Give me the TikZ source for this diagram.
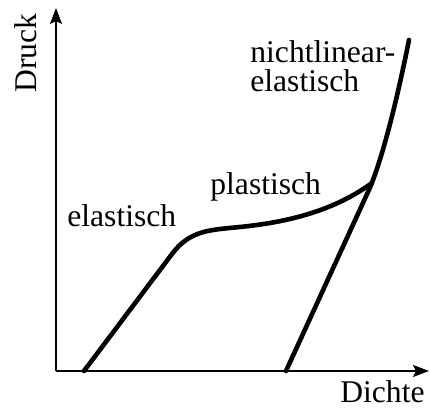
\documentclass[tikz,border=0pt]{standalone}
\usepackage{fontspec}
\setmainfont{Liberation Serif}
\usetikzlibrary{arrows.meta}
\tikzset{
  axis/.style={-{Stealth[length=8pt,width=6pt,inset=1.5pt]},line width=1pt},
  curve/.style={line width=2.3pt,line cap=round,line join=round},
  lbl/.style={inner sep=0pt,font=\fontsize{15.8}{14.5}\selectfont}
}

\begin{document}
\begin{tikzpicture}[x=0.5pt,y=0.5pt]
\useasboundingbox (-56,-39) rectangle (374,371);
\coordinate (O) at (0,0);
\coordinate (yend) at (0,363);
\coordinate (xend) at (373,0);
\draw[axis] (O) -- (yend);
\draw[axis] (O) -- (xend);
\node[lbl,rotate=90,anchor=base] (druck) at (-19,318) {Druck};
\node[lbl,anchor=base east] (dichte) at (369,-32) {Dichte};
% elastisch -> plastisch
\draw[curve] (28,0) -- (116,117) .. controls (134,141) and (154,141) .. (184,144)
  .. controls (234,149) and (279,161) .. (316,188);
% entlastung und nichtlinear-elastisch
\draw[curve] (230,0) -- (312,179) .. controls (324,205) and (339,261) .. (353,331);
\node[lbl,anchor=base west] (el) at (11,144) {elastisch};
\node[lbl,anchor=base west] (pl) at (154,176) {plastisch};
\node[lbl,anchor=north west,align=left] (nl) at (194,331) {nichtlinear-\\elastisch};
\end{tikzpicture}
\end{document}
